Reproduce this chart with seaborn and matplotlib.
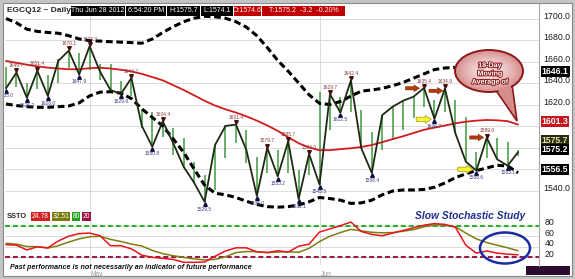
import numpy as np
import pandas as pd
import matplotlib
matplotlib.use("Agg")
import matplotlib.pyplot as plt
import seaborn as sns
from matplotlib.patches import Ellipse, Rectangle, Polygon, FancyArrow
from matplotlib.transforms import ScaledTranslation
import matplotlib.patheffects as pe

sns.set_style("white")
plt.rcParams["font.family"] = ["Liberation Sans", "DejaVu Sans"]

# ---------------- data ----------------
bar_index = list(range(50))
close_line = [1635.0, 1649.7, 1626.2, 1651.4, 1628.0, 1660.5, 1670.1, 1647.9, 1674.3, 1650.5,
              1633.5, 1629.8, 1644.7, 1600.0, 1580.8, 1604.4, 1584.0, 1562.0, 1547.3, 1529.5,
              1582.3, 1600.0, 1601.4, 1577.7, 1535.0, 1579.7, 1553.2, 1585.7, 1532.1, 1574.0,
              1545.5, 1629.7, 1612.5, 1642.4, 1579.2, 1556.4, 1610.2, 1618.0, 1623.5, 1627.3,
              1635.4, 1606.7, 1634.9, 1593.2, 1566.8, 1558.6, 1589.0, 1569.0, 1563.1, 1575.7]
bar_low = [1635.0, 1636.0, 1626.2, 1634.0, 1628.0, 1640.0, 1653.7, 1647.9, 1652.0, 1643.0,
           1633.5, 1629.8, 1628.0, 1598.0, 1580.8, 1590.0, 1573.0, 1562.0, 1546.7, 1529.5,
           1540.5, 1570.0, 1584.0, 1565.3, 1535.0, 1556.0, 1553.2, 1556.0, 1532.1, 1554.4,
           1545.5, 1596.3, 1611.8, 1613.0, 1579.2, 1556.4, 1577.7, 1587.0, 1596.3, 1607.2,
           1618.0, 1606.7, 1613.0, 1593.2, 1566.8, 1558.6, 1570.0, 1569.0, 1563.1, 1572.0]
bar_high = [1655.0, 1649.7, 1640.0, 1651.4, 1647.0, 1662.0, 1670.1, 1667.6, 1674.3, 1658.0,
            1658.0, 1642.0, 1644.7, 1616.0, 1613.0, 1604.4, 1598.0, 1589.0, 1566.8, 1554.4,
            1582.3, 1601.0, 1602.0, 1596.3, 1571.5, 1579.7, 1577.7, 1585.7, 1559.0, 1574.0,
            1632.0, 1629.7, 1627.0, 1642.4, 1615.0, 1594.7, 1610.2, 1618.0, 1623.5, 1627.3,
            1635.4, 1624.0, 1634.9, 1624.0, 1608.7, 1576.0, 1589.0, 1589.0, 1585.0, 1578.0]
upper_band = [1700.0, 1696.0, 1690.0, 1688.0, 1687.0, 1686.3, 1684.0, 1681.0, 1679.4, 1679.0,
              1678.4, 1678.0, 1677.6, 1677.0, 1681.0, 1687.0, 1692.4, 1697.0, 1700.3, 1702.0,
              1701.6, 1700.3, 1697.0, 1692.0, 1684.0, 1673.0, 1661.0, 1651.0, 1640.0, 1629.0,
              1621.0, 1620.0, 1622.8, 1627.8, 1632.5, 1633.5, 1635.0, 1637.5, 1640.5, 1644.5,
              1648.5, 1652.5, 1654.0, 1654.5, 1654.0, 1653.0, 1651.5, 1649.5, 1648.0, 1646.1]
lower_band = [1620.5, 1619.0, 1618.0, 1617.4, 1617.4, 1618.0, 1618.6, 1621.5, 1628.0, 1631.5,
              1631.9, 1630.5, 1625.5, 1616.0, 1608.0, 1600.0, 1588.0, 1575.5, 1560.0, 1545.0,
              1537.5, 1536.0, 1533.5, 1530.0, 1527.0, 1525.0, 1524.5, 1525.0, 1526.5, 1529.5,
              1533.5, 1532.5, 1531.0, 1528.0, 1528.5, 1531.0, 1536.0, 1539.5, 1540.5, 1540.5,
              1541.0, 1543.0, 1547.0, 1552.0, 1555.5, 1558.5, 1561.0, 1563.5, 1562.8, 1556.5]
ma18 = [1660.5, 1658.8, 1657.0, 1655.5, 1654.3, 1653.5, 1652.8, 1652.8, 1653.8, 1654.2,
        1653.5, 1652.3, 1650.7, 1648.5, 1645.5, 1642.5, 1638.0, 1633.5, 1628.5, 1623.5,
        1619.0, 1615.5, 1612.5, 1609.0, 1605.0, 1600.5, 1595.5, 1589.5, 1584.0, 1580.0,
        1577.5, 1577.5, 1578.5, 1579.3, 1580.5, 1582.3, 1585.0, 1587.8, 1590.5, 1593.5,
        1596.5, 1598.5, 1600.5, 1602.5, 1604.0, 1605.0, 1605.6, 1605.3, 1604.5, 1601.3]
stoch_k = [44.0, 43.0, 34.0, 40.0, 38.0, 51.0, 60.0, 65.0, 66.0, 61.0,
           42.0, 42.0, 36.0, 24.0, 20.0, 18.0, 16.0, 10.5, 10.5, 11.0,
           22.0, 32.0, 38.0, 38.0, 30.5, 29.0, 32.5, 30.0, 41.0, 45.0,
           68.0, 74.0, 80.0, 87.0, 69.0, 63.5, 61.0, 66.0, 71.0, 76.0,
           81.0, 84.0, 82.5, 77.0, 43.0, 28.0, 32.0, 28.0, 26.0, 24.78]
stoch_d = [46.5, 45.0, 40.5, 40.2, 37.5, 42.0, 49.0, 55.0, 59.0, 60.0,
           54.0, 50.0, 45.0, 41.5, 33.0, 27.0, 23.0, 20.0, 17.0, 15.0,
           16.0, 21.0, 29.0, 31.0, 30.7, 29.0, 30.0, 30.5, 29.5, 37.0,
           50.0, 60.0, 67.0, 73.0, 70.0, 67.5, 66.5, 67.0, 69.5, 72.5,
           78.0, 81.5, 81.0, 78.0, 66.0, 55.0, 48.0, 43.0, 38.0, 32.51]
swing_high_idx = [1, 3, 6, 8, 12, 15, 22, 25, 27, 29, 31, 33, 40, 42, 46]
swing_low_idx = [0, 2, 4, 7, 11, 14, 19, 24, 26, 28, 30, 32, 35, 41, 45, 48]
price_ticks = [1540, 1560, 1580, 1600, 1620, 1640, 1660, 1680, 1700]
price_tick_labels = ["1540.0", "", "", "", "1620.0", "1640.0", "1660.0", "1680.0", "1700.0"]
stoch_ticks = [20, 40, 60, 80]
stoch_levels = [80, 20]
month_ticks = [8, 30]
month_labels = ["May", "Jun"]
symbol = "EGCQ12 ~ Daily"
quote_time = ["Thu Jun 28 2012", "6:54:20 PM"]
last_high, last_low, last_open, last_trade = 1575.7, 1574.1, 1574.6, 1575.2
net_change, pct_change = -3.2, -0.20
bubble_text = "18-Day\nMoving\nAverage of"
study_title = "Slow Stochastic Study"
disclaimer = "Past performance is not necessarily an indicator of future performance"

df = pd.DataFrame({"bar": bar_index, "close": close_line, "upper": upper_band,
                   "lower": lower_band, "ma": ma18, "k": stoch_k, "d": stoch_d})

W, H = 575, 279
fig = plt.figure(figsize=(W / 100, H / 100), dpi=100)
fig.patch.set_facecolor("white")

axp = fig.add_axes([5 / W, 1 - 212 / H, 534 / W, 208 / H])
axs = fig.add_axes([5 / W, 1 - 265 / H, 534 / W, 53 / H])

# ---------------- price panel ----------------
axp.vlines(bar_index, bar_low, bar_high, color="#3f9a3f", lw=1.1, zorder=2)
sns.lineplot(data=df, x="bar", y="ma", ax=axp, color="#d01c1c", lw=1.3, zorder=3, errorbar=None)
sns.lineplot(data=df, x="bar", y="upper", ax=axp, color="black", lw=2.2,
             linestyle=(0, (2.2, 1.2)), zorder=4, errorbar=None)
sns.lineplot(data=df, x="bar", y="lower", ax=axp, color="black", lw=2.2,
             linestyle=(0, (2.2, 1.2)), zorder=4, errorbar=None)
sns.lineplot(data=df, x="bar", y="close", ax=axp, color="#1f2a15", lw=1.3, zorder=5, errorbar=None)

up = ScaledTranslation(0, 1.6 / 72, fig.dpi_scale_trans)
dn = ScaledTranslation(0, -1.6 / 72, fig.dpi_scale_trans)
hi_vals = [close_line[i] for i in swing_high_idx]
lo_vals = [close_line[i] for i in swing_low_idx]
axp.plot(swing_high_idx, hi_vals, ls="none", marker="v", ms=2.6, color="#4a1010",
         transform=axp.transData + up, zorder=6)
axp.plot(swing_low_idx, lo_vals, ls="none", marker="^", ms=2.6, color="#101040",
         transform=axp.transData + dn, zorder=6)
for i in swing_high_idx:
    axp.annotate(f"{close_line[i]:.1f}", (i, close_line[i]), xytext=(0, 3.2),
                 textcoords="offset points", ha="center", va="bottom", fontsize=3.5,
                 color="#8a3a3a", zorder=7)
for i in swing_low_idx:
    axp.annotate(f"{close_line[i]:.1f}", (i, close_line[i]), xytext=(0, -3.4),
                 textcoords="offset points", ha="center", va="top", fontsize=3.5,
                 color="#3a3a80", zorder=7)

for v, lab in zip(price_ticks, price_tick_labels):
    if lab:
        axp.annotate(lab, xy=(1, v), xycoords=("axes fraction", "data"),
                     xytext=(2.9, 1.8), textcoords="offset points", ha="left", va="center",
                     fontsize=6.3, color="#1a1a1a", annotation_clip=False)

value_boxes = [(upper_band[-1], "black", "white", 3.6),
               (ma18[-1], "#c8141e", "white", 2.2),
               (last_high, "#2a2a10", "#e8e8a8", 8.6),
               (last_trade, "black", "white", 2.0),
               (lower_band[-1], "black", "white", 2.4)]
for v, fc, tc, dy in value_boxes:
    axp.annotate(f"{v:.1f}", xy=(1, v), xycoords=("axes fraction", "data"),
                 xytext=(1.9, dy), textcoords="offset points", ha="left", va="center",
                 fontsize=6.2, color=tc, fontweight="bold", annotation_clip=False, zorder=10,
                 bbox=dict(boxstyle="square,pad=0.12", fc=fc, ec="none"))

# ---------------- stochastic panel ----------------
for lvl, c in zip(stoch_levels, ["#2bb02b", "#9a1b45"]):
    axs.axhline(lvl, color=c, lw=1.5, ls=(0, (2.4, 1.4)), zorder=2)
sns.lineplot(data=df, x="bar", y="d", ax=axs, color="#7d7d12", lw=1.1, zorder=3, errorbar=None)
sns.lineplot(data=df, x="bar", y="k", ax=axs, color="#e8141e", lw=1.1, zorder=4, errorbar=None)
for v in stoch_ticks:
    axs.annotate(f"{v}", xy=(1, v), xycoords=("axes fraction", "data"),
                 xytext=(4.3, 2.2), textcoords="offset points", ha="left", va="center",
                 fontsize=6.3, color="#1a1a1a", annotation_clip=False)
for t, lab in zip(month_ticks, month_labels):
    axs.annotate(lab, xy=(t, 0), xycoords=("data", "axes fraction"), xytext=(0.6, -7.0),
                 textcoords="offset points", ha="left", va="center", fontsize=4.8,
                 color="#9a9a9a", annotation_clip=False)

for ax in (axp, axs):
    ax.set_xlim(-0.096, 51.0)
    ax.set_facecolor("none")
    for s in ax.spines.values():
        s.set_visible(False)
    ax.set_xticks(month_ticks)
    ax.tick_params(length=0, labelbottom=False, labelleft=False, labelright=False)
    ax.grid(True, color="#d6d6d6", lw=0.6)
    ax.set_xlabel("")
    ax.set_ylabel("")
    ax.set_axisbelow(True)
axp.set_yticks(price_ticks)
axp.set_ylim(1520, 1713.5)
axs.set_yticks(stoch_ticks)
axs.set_ylim(5.4, 106)

# ---------------- overlay (pixel coordinates) ----------------
ov = fig.add_axes([0, 0, 1, 1], zorder=20)
ov.patch.set_alpha(0)
ov.axis("off")

ov.text(7, 11, symbol, fontsize=6, fontweight="bold", va="center", ha="left")
segments = [(71, 125, quote_time[0], "black"), (126, 166, quote_time[1], "black"),
            (167, 200, f"H:{last_high:.1f}", "black"), (201, 233, f"L:{last_low:.1f}", "black"),
            (234, 261, f"O:{last_open:.1f}", "#c00000"),
            (262, 345, f"T:{last_trade:.1f}  {net_change:.1f}  {pct_change:.2f}%", "#c00000")]
for x0, x1, txt, c in segments:
    ov.add_patch(Rectangle((x0, 5.5), x1 - x0, 10.5, fc=c, ec="none"))
    ov.text((x0 + x1) / 2, 11, txt, color="white", fontsize=5.0, ha="center", va="center")

ov.text(7, 216.3, "SSTO", fontsize=5.3, fontweight="bold", va="center", ha="left")
ssto_boxes = [(31, 50, f"{stoch_k[-1]:.2f}", "#d42020"), (52, 70, f"{stoch_d[-1]:.2f}", "#7a7a10"),
              (72, 80, f"{stoch_levels[0]}", "#1fa01f"), (82, 91, f"{stoch_levels[1]}", "#9a1040")]
for x0, x1, txt, c in ssto_boxes:
    ov.add_patch(Rectangle((x0, 212), x1 - x0, 8.8, fc=c, ec="none"))
    ov.text((x0 + x1) / 2, 216.4, txt, color="white", fontsize=4.9, ha="center", va="center")

ov.text(470, 216, study_title, fontsize=7.4, fontweight="bold", fontstyle="italic",
        color="#1f2f8f", ha="center", va="center")
ov.text(10, 267.2, disclaimer, fontsize=5.1, fontweight="bold", fontstyle="italic",
        color="#111111", ha="left", va="center")
ov.add_patch(Ellipse((505, 248), 50, 31, fc="none", ec="#1b2ba0", lw=1.8))
ov.add_patch(Rectangle((526, 266), 44, 8.5, fc="#2d0b2d", ec="none"))

# speech bubble
bx, by, bw, bh = 489, 71, 68, 42
ov.add_patch(Polygon([(495, 89), (512, 84), (517, 121)], closed=True,
                     fc="#d68c8c", ec="#8b1a1a", lw=1.2, zorder=1))
ell = Ellipse((bx, by), bw, bh, fc="none", ec="none")
ov.add_patch(ell)
GX, GY = np.meshgrid(np.linspace(-1, 1, 120), np.linspace(-1, 1, 80))
R = np.clip(np.sqrt(GX ** 2 + GY ** 2), 0, 1)
c0 = np.array([0.97, 0.90, 0.90])
c1 = np.array([0.84, 0.55, 0.55])
img = c0 + (c1 - c0) * (R[..., None] ** 1.5)
im = ov.imshow(img, extent=(bx - bw / 2, bx + bw / 2, by + bh / 2, by - bh / 2),
               aspect="auto", interpolation="bilinear", zorder=2)
im.set_clip_path(ell)
ov.add_patch(Ellipse((bx, by), bw, bh, fc="none", ec="#8b1a1a", lw=1.4, zorder=3))
ov.add_patch(Polygon([(497.5, 89.5), (510.5, 85.5), (512.5, 95), (501, 96)], closed=True,
                     fc="#d68c8c", ec="none", zorder=4))
ov.text(490, 74, bubble_text, ha="center", va="center", fontsize=5.1, fontweight="bold",
        color="white", linespacing=1.25, zorder=5,
        path_effects=[pe.withStroke(linewidth=1.4, foreground="#8b1a1a")])

# arrows
for x, y in [(412.5, 88.3), (436, 90.8), (476.7, 137.5)]:
    ov.add_patch(FancyArrow(x - 7, y, 14, 0, width=3.2, head_width=6.5, head_length=5.5,
                            length_includes_head=True, fc="#b33c0c", ec="#7a2400", lw=0.4, zorder=5))
for x, y in [(423.7, 119.3), (465.3, 169.3)]:
    ov.add_patch(FancyArrow(x - 7.5, y, 15, 0, width=4.2, head_width=8, head_length=6,
                            length_includes_head=True, fc="#f4f43a", ec="#a89a00", lw=0.5, zorder=5))

# frame
ov.add_patch(Rectangle((1.2, 1.2), W - 2.4, H - 3.5, fc="none", ec="#c4c4c4", lw=2.2))
ov.add_patch(Rectangle((3, 3), W - 6, H - 6.5, fc="none", ec="#8a8a8a", lw=0.8))
ov.plot([539, 539], [3, 266], color="#a8a8a8", lw=0.8)

ov.set_xlim(0, W)
ov.set_ylim(H, 0)

fig.savefig("out.png", dpi=100)
